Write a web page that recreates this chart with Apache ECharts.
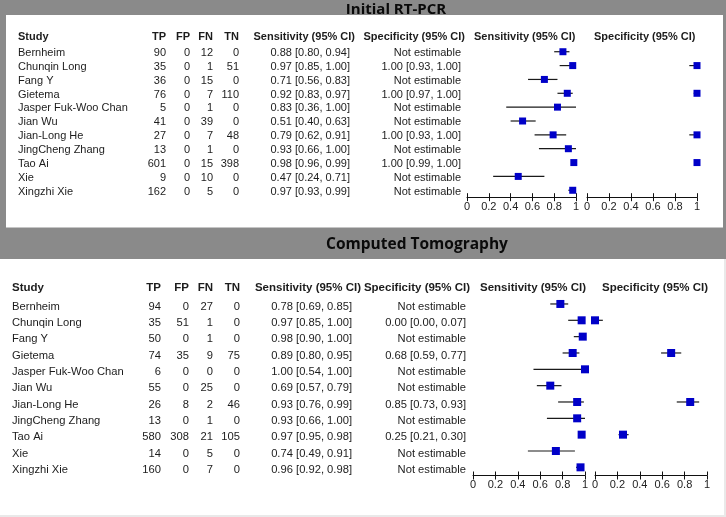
<!DOCTYPE html>
<html><head><meta charset="utf-8">
<script src="https://cdn.jsdelivr.net/npm/echarts@6/dist/echarts.min.js"></script>
<style>html,body{margin:0;padding:0;background:#fff}#c{width:726px;height:517px}</style>
</head><body><div id="c"></div>
<script>
const studies = ['Bernheim','Chunqin Long','Fang Y','Gietema','Jasper Fuk-Woo Chan','Jian Wu','Jian-Long He','JingCheng Zhang','Tao Ai','Xie','Xingzhi Xie'];
const columnHeaders = ['Study','TP','FP','FN','TN','Sensitivity (95% CI)','Specificity (95% CI)'];
const plotHeaders = ['Sensitivity (95% CI)','Specificity (95% CI)'];
const panelTitles = ['Initial RT-PCR','Computed Tomography'];
const tickValues = [0,0.2,0.4,0.6,0.8,1];

// Initial RT-PCR
const pcrTP = [90,35,36,76,5,41,27,13,601,9,162];
const pcrFP = [0,0,0,0,0,0,0,0,0,0,0];
const pcrFN = [12,1,15,7,1,39,7,1,15,10,5];
const pcrTN = [0,51,0,110,0,0,48,0,398,0,0];
const pcrSens   = [0.88,0.97,0.71,0.92,0.83,0.51,0.79,0.93,0.98,0.47,0.97];
const pcrSensLo = [0.80,0.85,0.56,0.83,0.36,0.40,0.62,0.66,0.96,0.24,0.93];
const pcrSensHi = [0.94,1.00,0.83,0.97,1.00,0.63,0.91,1.00,0.99,0.71,0.99];
const pcrSpec   = [null,1.00,null,1.00,null,null,1.00,null,1.00,null,null];
const pcrSpecLo = [null,0.93,null,0.97,null,null,0.93,null,0.99,null,null];
const pcrSpecHi = [null,1.00,null,1.00,null,null,1.00,null,1.00,null,null];

// Computed Tomography
const ctTP = [94,35,50,74,6,55,26,13,580,14,160];
const ctFP = [0,51,0,35,0,0,8,0,308,0,0];
const ctFN = [27,1,1,9,0,25,2,1,21,5,7];
const ctTN = [0,0,0,75,0,0,46,0,105,0,0];
const ctSens   = [0.78,0.97,0.98,0.89,1.00,0.69,0.93,0.93,0.97,0.74,0.96];
const ctSensLo = [0.69,0.85,0.90,0.80,0.54,0.57,0.76,0.66,0.95,0.49,0.92];
const ctSensHi = [0.85,1.00,1.00,0.95,1.00,0.79,0.99,1.00,0.98,0.91,0.98];
const ctSpec   = [null,0.00,null,0.68,null,null,0.85,null,0.25,null,null];
const ctSpecLo = [null,0.00,null,0.59,null,null,0.73,null,0.21,null,null];
const ctSpecHi = [null,0.07,null,0.77,null,null,0.93,null,0.30,null,null];

const panels = [
  {title: panelTitles[0], TP:pcrTP, FP:pcrFP, FN:pcrFN, TN:pcrTN,
   sens:[pcrSens,pcrSensLo,pcrSensHi], spec:[pcrSpec,pcrSpecLo,pcrSpecHi],
   L:{grids:[{left:467,width:109},{left:587,width:110}], top:44.8, height:152.4, sq:7,
      font:11, hfont:11, studyX:18, cols:[166,190,213,239,350,461], hcols:[166,190,213,239,355,465],
      plotHX:[474,594], headY:37, dy:1.2, titleX:396, titleY:9.5, titleSize:15}},
  {title: panelTitles[1], TP:ctTP, FP:ctFP, FN:ctFN, TN:ctTN,
   sens:[ctSens,ctSensLo,ctSensHi], spec:[ctSpec,ctSpecLo,ctSpecHi],
   L:{grids:[{left:473,width:112},{left:595,width:112}], top:295.8, height:179.7, sq:8,
      font:11.2, hfont:11.5, studyX:12, cols:[161,189,213,240,352,466], hcols:[161,189,213,240,361,470],
      plotHX:[480,602], headY:288, dy:2.5, titleX:417, titleY:245, titleSize:15.5}}
];

const chart = echarts.init(document.getElementById('c'), null, {renderer:'canvas'});

const grids=[], xAxes=[], yAxes=[], series=[];
function makeRender(size){
  return function(params, api){
    const y = api.value(3);
    const c = api.coord([api.value(0), y]);
    const l = api.coord([api.value(1), y]);
    const h = api.coord([api.value(2), y]);
    return {type:'group', children:[
      {type:'line', shape:{x1:l[0], y1:c[1], x2:h[0], y2:c[1]}, style:{stroke:'#1a1a1a', lineWidth:1.2}},
      {type:'rect', shape:{x:c[0]-size/2, y:c[1]-size/2, width:size, height:size}, style:{fill:'#0000c8'}}
    ]};
  };
}
panels.forEach((p) => {
  [p.sens, p.spec].forEach((arr, k) => {
    const g = grids.length;
    grids.push({left:p.L.grids[k].left, width:p.L.grids[k].width, top:p.L.top, height:p.L.height});
    const common = {gridIndex:g, type:'value', min:0, max:1, interval:0.2, position:'bottom', offset:0, splitLine:{show:false}};
    xAxes.push(Object.assign({}, common, {
      axisLine:{show:true, lineStyle:{color:'#111', width:1}},
      axisTick:{show:true, length:4, lineStyle:{color:'#111', width:1}},
      axisLabel:{show:true, fontSize:11, color:'#222', margin:4, fontFamily:'Liberation Sans',
        formatter:(v)=>{const t = tickValues.find(x=>Math.abs(x-v)<1e-6); return t===undefined?'':String(t);}}
    }));
    xAxes.push(Object.assign({}, common, {
      axisLine:{show:false}, axisTick:{show:true, inside:true, length:4, lineStyle:{color:'#111', width:1}},
      axisLabel:{show:false}
    }));
    yAxes.push({gridIndex:g, type:'category', data:studies, inverse:true, show:false});
    const data = [];
    arr[0].forEach((v,i)=>{ if (v!==null) data.push([v, arr[1][i], arr[2][i], i]); });
    series.push({type:'custom', xAxisIndex:xAxes.length-2, yAxisIndex:g, renderItem:makeRender(p.L.sq),
      encode:{x:[0,1,2], y:3}, data:data, clip:false, z:5});
  });
});

chart.setOption({
  animation:false,
  backgroundColor:'#fff',
  grid:grids, xAxis:xAxes, yAxis:yAxes, series:series
});

// table text, positioned from the library's row scale
const gfx = [
  {type:'rect', z:-100, shape:{x:0,y:0,width:726,height:259}, style:{fill:'#8a8a8a'}},
  {type:'rect', z:-99, shape:{x:6,y:15,width:717,height:212.5}, style:{fill:'#ffffff'}},
  {type:'rect', z:-99, shape:{x:724,y:259,width:2,height:258}, style:{fill:'#e9e9e9'}},
  {type:'rect', z:-99, shape:{x:0,y:515,width:726,height:2}, style:{fill:'#e9e9e9'}}
];
function txt(x,y,text,font,align,opt){
  gfx.push(Object.assign({type:'text', x:x, y:y, z:10, style:{text:text, font:font, fill:'#1c1c1c',
    textAlign:align, textVerticalAlign:'middle'}}, opt||{}));
}
const fmt = (e,l,h)=> e===null ? 'Not estimable' : e.toFixed(2)+' ['+l.toFixed(2)+', '+h.toFixed(2)+']';
panels.forEach((p, pi) => {
  const L = p.L;
  const g0 = pi*2;
  const reg = L.font+'px "Liberation Sans"';
  const bold = 'bold '+L.hfont+'px "Liberation Sans"';
  gfx.push({type:'text', x:L.titleX, y:L.titleY, z:10, style:{text:p.title, font:'bold '+L.titleSize+'px "Open Sans"', fill:'#0a0a0a', textAlign:'center', textVerticalAlign:'middle'}});
  txt(L.studyX, L.headY, columnHeaders[0], bold, 'left');
  for (let c=1;c<=4;c++) txt(L.hcols[c-1], L.headY, columnHeaders[c], bold, 'right');
  txt(L.hcols[4], L.headY, columnHeaders[5], bold, 'right');
  txt(L.hcols[5], L.headY, columnHeaders[6], bold, 'right');
  txt(L.plotHX[0], L.headY, plotHeaders[0], bold, 'left');
  txt(L.plotHX[1], L.headY, plotHeaders[1], bold, 'left');
  studies.forEach((s,i) => {
    const y = chart.convertToPixel({gridIndex:g0}, [0, i])[1] + L.dy;
    txt(L.studyX, y, s, reg, 'left');
    txt(L.cols[0], y, String(p.TP[i]), reg, 'right');
    txt(L.cols[1], y, String(p.FP[i]), reg, 'right');
    txt(L.cols[2], y, String(p.FN[i]), reg, 'right');
    txt(L.cols[3], y, String(p.TN[i]), reg, 'right');
    txt(L.cols[4], y, fmt(p.sens[0][i], p.sens[1][i], p.sens[2][i]), reg, 'right');
    txt(L.cols[5], y, fmt(p.spec[0][i], p.spec[1][i], p.spec[2][i]), reg, 'right');
  });
});
chart.setOption({graphic:{elements:gfx}});
</script>
</body></html>
